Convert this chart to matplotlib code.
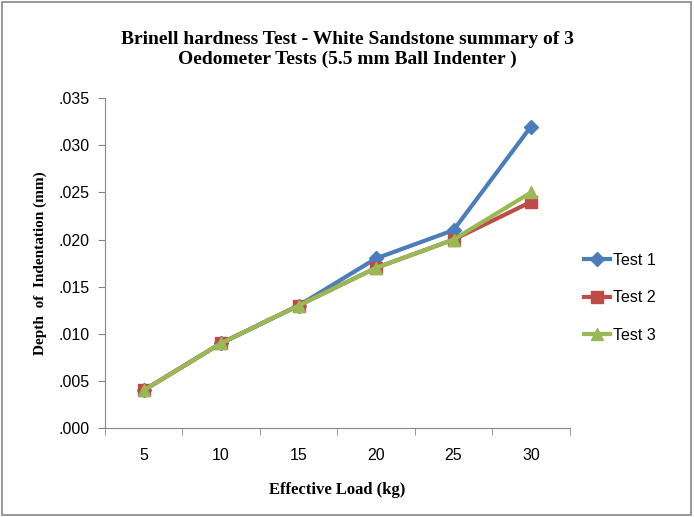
import matplotlib
matplotlib.use("Agg")
from matplotlib import pyplot as plt
from matplotlib.patches import Rectangle
from matplotlib.ticker import FixedLocator, FuncFormatter

loads = [5, 10, 15, 20, 25, 30]
test1 = [0.004, 0.009, 0.013, 0.018, 0.021, 0.032]
test2 = [0.004, 0.009, 0.013, 0.017, 0.020, 0.024]
test3 = [0.004, 0.009, 0.013, 0.017, 0.020, 0.025]
y_ticks = [0.000, 0.005, 0.010, 0.015, 0.020, 0.025, 0.030, 0.035]

fig = plt.figure(figsize=(6.94, 5.17), dpi=100)
ax = fig.add_axes([0.151, 0.172, 0.670, 0.638])

pos = list(range(len(loads)))
ax.plot(pos, test1, color='#4A7EBB', lw=3, marker='D', ms=7, label='Test 1')
ax.plot(pos, test2, color='#BE4B48', lw=3, marker='s', ms=9, label='Test 2')
ax.plot(pos, test3, color='#98B954', lw=3, marker='^', ms=9, label='Test 3')

ax.set_xlim(-0.5, len(loads) - 0.5)
ax.set_ylim(0, 0.035)
ax.set_xticks(pos)
ax.set_xticklabels([str(v) for v in loads])
ax.xaxis.set_minor_locator(FixedLocator([p - 0.5 for p in pos] + [len(loads) - 0.5]))
ax.tick_params(axis='x', which='major', length=0, pad=14)
ax.tick_params(axis='x', which='minor', length=5, color='#868686')
ax.set_yticks(y_ticks)
ax.yaxis.set_major_formatter(FuncFormatter(lambda v, p: f'{v:.3f}'.lstrip('0')))
ax.tick_params(axis='y', length=5, color='#868686', pad=6)
for lab in ax.get_xticklabels() + ax.get_yticklabels():
    lab.set_fontfamily('Liberation Sans')
    lab.set_fontsize(11.5)

for s in ['top', 'right']:
    ax.spines[s].set_visible(False)
for s in ['left', 'bottom']:
    ax.spines[s].set_color('#868686')

ax.set_xlabel('Effective Load (kg)', fontfamily='Liberation Serif', fontweight='bold',
              fontsize=12, labelpad=14)
ax.set_ylabel('Depth  of  Indentation (mm)', fontfamily='Liberation Serif', fontweight='bold',
              fontsize=11, labelpad=8)
fig.text(0.5, 0.905, 'Brinell hardness Test - White Sandstone summary of 3\nOedometer Tests (5.5 mm Ball Indenter )',
         ha='center', va='center', fontfamily='Liberation Serif', fontweight='bold', fontsize=14,
         linespacing=1.2)

leg = ax.legend(loc='center left', bbox_to_anchor=(1.0, 0.395), frameon=False,
                prop={'family': 'Liberation Sans', 'size': 11.5}, handlelength=1.6,
                labelspacing=1.4, handletextpad=0.2)

fig.patches.append(Rectangle((0.003, 0.004), 0.992, 0.992, transform=fig.transFigure,
                             fill=False, edgecolor='#868686', lw=1.2))

fig.savefig('out.png', dpi=100)
